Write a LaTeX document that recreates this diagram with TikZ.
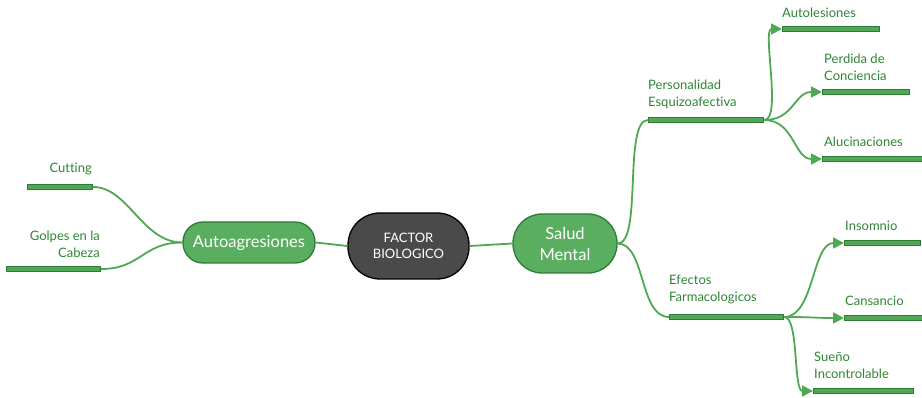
\documentclass[tikz,border=0pt]{standalone}
\usepackage{fontspec}
\setmainfont{Lato}[Ligatures=NoCommon]
\usetikzlibrary{arrows.meta}
\definecolor{lgreen}{HTML}{4FA853}
\definecolor{dgreen}{HTML}{2F7A35}
\definecolor{tgreen}{HTML}{2E8535}
\definecolor{pillg}{HTML}{5AAE60}
\definecolor{darkpill}{HTML}{4A4A4A}
\begin{document}
\begin{tikzpicture}[x=1pt,y=-1pt,
  pill/.style={rounded corners=20pt, draw=dgreen, line width=1.3pt, fill=pillg, text=white, align=center, font=\fontsize{16.5}{21}\selectfont},
  darkp/.style={rounded corners=32pt, draw=black, line width=1.3pt, fill=darkpill, text=white, align=center, font=\fontsize{13}{15.5}\selectfont},
  bar/.style={draw=dgreen, fill=lgreen, line width=1.2pt, minimum height=5pt, inner sep=0pt, anchor=west},
  lbl/.style={text=tgreen, font=\fontsize{13}{17}\selectfont, inner sep=0pt},
  conn/.style={draw=lgreen, line width=1.8pt},
  arr/.style={conn, -{Triangle[length=11pt,width=11pt]}}
]
\useasboundingbox (0,0) rectangle (922,398);
% central nodes
\node[darkp, minimum width=121pt, minimum height=66pt] (fb) at (408.5,246) {FACTOR\\BIOLOGICO};
\node[pill, rounded corners=29pt, minimum width=104pt, minimum height=59pt] (sm) at (565,243.5) {Salud\\Mental};
\node[pill, minimum width=132pt, minimum height=41pt] (aa) at (249,242.5) {Autoagresiones};
% bars
\node[bar, minimum width=115pt] (pe) at (648,120) {};
\node[bar, minimum width=97pt] (al) at (782,29) {};
\node[bar, minimum width=87pt] (pc) at (822,92) {};
\node[bar, minimum width=102pt] (alu) at (822,159) {};
\node[bar, minimum width=114pt] (ef) at (669,317) {};
\node[bar, minimum width=76pt] (in) at (844,243) {};
\node[bar, minimum width=80pt] (ca) at (844,318) {};
\node[bar, minimum width=100pt] (su) at (813,391) {};
\node[bar, minimum width=65pt] (cu) at (27,187) {};
\node[bar, minimum width=94pt] (go) at (6,269) {};
% labels
\node[lbl, anchor=south west, align=left] at (648,109) {Personalidad\\Esquizoafectiva};
\node[lbl, anchor=south west] at (782,18) {Autolesiones};
\node[lbl, anchor=south west, align=left] at (824,81) {Perdida de\\Conciencia};
\node[lbl, anchor=south west] at (824,147) {Alucinaciones};
\node[lbl, anchor=south west, align=left] at (669,304) {Efectos\\Farmacologicos};
\node[lbl, anchor=south west] at (845,231) {Insomnio};
\node[lbl, anchor=south west] at (845,306) {Cansancio};
\node[lbl, anchor=south west, align=left] at (814,379) {Sueño\\Incontrolable};
\node[lbl, anchor=south east] at (92,175) {Cutting};
\node[lbl, anchor=south east, align=right] at (100,258) {Golpes en la\\Cabeza};
% connectors
\draw[conn] (aa.east) -- (fb.west);
\draw[conn] (fb.east) -- (sm.west);
\draw[conn] (aa.west) .. controls +(-40,0) and +(35,0) .. (cu.east);
\draw[conn] (aa.west) .. controls +(-40,0) and +(40,0) .. (go.east);
\draw[conn] (sm.east) .. controls +(25,0) and +(-25,0) .. (pe.west);
\draw[conn] (sm.east) .. controls +(28,0) and +(-30,0) .. (ef.west);
\draw[arr] (pe.east) .. controls +(18,0) and +(-20,0) .. (al.west);
\draw[arr] (pe.east) .. controls +(30,0) and +(-28,0) .. (pc.west);
\draw[arr] (pe.east) .. controls +(30,0) and +(-28,0) .. (alu.west);
\draw[arr] (ef.east) .. controls +(30,0) and +(-32,0) .. (in.west);
\draw[arr] (ef.east) .. controls +(30,0) and +(-30,0) .. (ca.west);
\draw[arr] (ef.east) .. controls +(15,0) and +(-20,0) .. (su.west);
\end{tikzpicture}
\end{document}
